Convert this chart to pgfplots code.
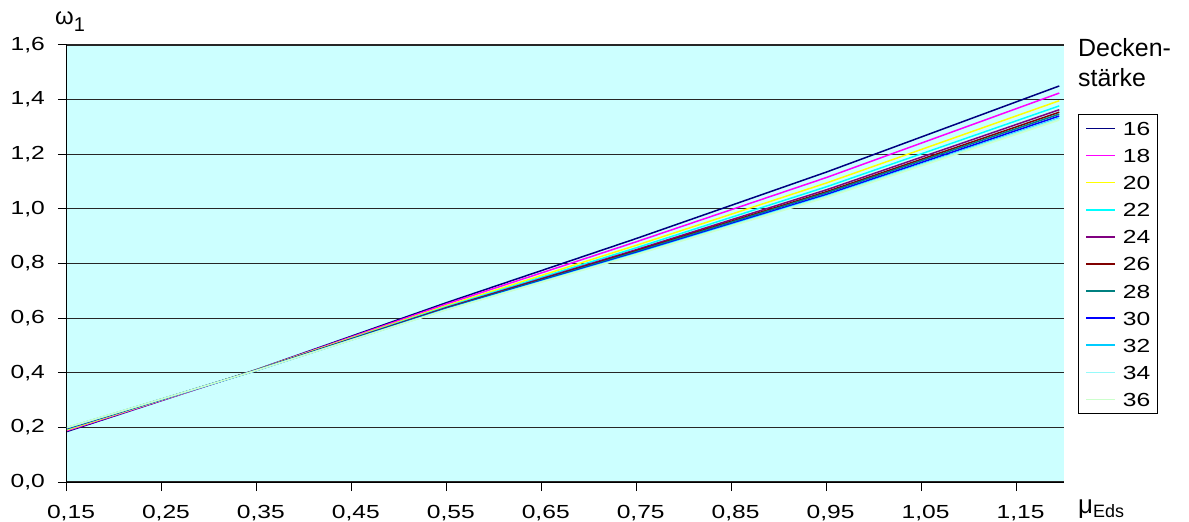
\documentclass[border=0pt]{standalone}
\usepackage{fontspec}
\setmainfont{Liberation Sans}
\usepackage{pgfplots}
\pgfplotsset{compat=1.18}
\definecolor{bgc}{RGB}{204,255,255}
\definecolor{c16}{RGB}{0,0,128}
\definecolor{c18}{RGB}{255,0,255}
\definecolor{c20}{RGB}{255,255,0}
\definecolor{c22}{RGB}{0,255,255}
\definecolor{c24}{RGB}{128,0,128}
\definecolor{c26}{RGB}{128,0,0}
\definecolor{c28}{RGB}{0,128,128}
\definecolor{c30}{RGB}{0,0,255}
\definecolor{c32}{RGB}{0,204,255}
\definecolor{c34}{RGB}{150,250,250}
\definecolor{c36}{RGB}{204,255,204}
\newcommand{\wl}[1]{\scalebox{1.3}[1]{#1}}
\begin{document}
\begin{tikzpicture}
\path[use as bounding box] (-67bp,-40bp) rectangle (1122bp,482bp);
\begin{axis}[
  at={(0bp,0bp)}, anchor=south west,
  scale only axis, width=997bp, height=437bp,
  xmin=0.15, xmax=1.2, ymin=0, ymax=1.6,
  xtick={0.15,0.25,0.35,0.45,0.55,0.65,0.75,0.85,0.95,1.05,1.15},
  ytick={0,0.2,0.4,0.6,0.8,1.0,1.2,1.4,1.6},
  axis x line*=bottom, axis y line*=left,
  axis line style={black, line width=1bp},
  tick align=outside, major tick length=9bp,
  tick style={black, line width=1bp},
  ymajorgrids, grid style={black!85, line width=1.2bp},
  axis background/.style={fill=bgc},
  tick label style={font=\fontsize{19}{22}\selectfont},
  /pgf/number format/assume math mode=true,
  xticklabel style={/pgf/number format/use comma, /pgf/number format/fixed, /pgf/number format/fixed zerofill, /pgf/number format/precision=2,
    inner sep=0pt, anchor=north, yshift=-14bp, xshift=4bp},
  yticklabel style={/pgf/number format/use comma, /pgf/number format/fixed, /pgf/number format/fixed zerofill, /pgf/number format/precision=1,
    inner sep=0pt, anchor=east, xshift=-13bp},
  xticklabel={\wl{\axisdefaultticklabel}},
  yticklabel={\wl{\axisdefaultticklabel}},
  legend style={at={(1.014,0.842)}, anchor=north west, draw=black, line width=0.8bp,
    fill=white, inner sep=7bp, row sep=13.1bp,
    font=\fontsize{19}{19}\selectfont,
    nodes={inner sep=0pt, text height=14bp, text depth=0pt}},
  legend cell align=left,
  legend image code/.code={\draw[#1, line width=1.6bp] (0bp,0bp) -- (29bp,0bp); \path (36bp,0bp);},
  every axis plot/.append style={line width=1.5bp},
  clip=false,
]
\addplot[c16] coordinates {(0.15,0.185) (0.35,0.412) (0.55,0.657) (0.75,0.892) (0.95,1.135) (1.195,1.450)};
\addplot[c18] coordinates {(0.15,0.188) (0.35,0.411) (0.55,0.652) (0.75,0.880) (0.95,1.115) (1.195,1.424)};
\addplot[c20] coordinates {(0.15,0.191) (0.35,0.411) (0.55,0.646) (0.75,0.867) (0.95,1.095) (1.195,1.396)};
\addplot[c22] coordinates {(0.15,0.194) (0.35,0.410) (0.55,0.642) (0.75,0.858) (0.95,1.081) (1.195,1.377)};
\addplot[c24] coordinates {(0.15,0.196) (0.35,0.410) (0.55,0.639) (0.75,0.851) (0.95,1.070) (1.195,1.363)};
\addplot[c26] coordinates {(0.15,0.197) (0.35,0.410) (0.55,0.637) (0.75,0.847) (0.95,1.063) (1.195,1.354)};
\addplot[c28] coordinates {(0.15,0.197) (0.35,0.410) (0.55,0.636) (0.75,0.844) (0.95,1.059) (1.195,1.347)};
\addplot[c30] coordinates {(0.15,0.198) (0.35,0.409) (0.55,0.634) (0.75,0.840) (0.95,1.053) (1.195,1.340)};
\addplot[c32] coordinates {(0.15,0.199) (0.35,0.409) (0.55,0.633) (0.75,0.837) (0.95,1.048) (1.195,1.332)};
\addplot[c34] coordinates {(0.15,0.199) (0.35,0.409) (0.55,0.632) (0.75,0.835) (0.95,1.046) (1.195,1.330)};
\addplot[c36] coordinates {(0.15,0.200) (0.35,0.409) (0.55,0.631) (0.75,0.833) (0.95,1.042) (1.195,1.325)};
\legend{\wl{16},\wl{18},\wl{20},\wl{22},\wl{24},\wl{26},\wl{28},\wl{30},\wl{32},\wl{34},\wl{36}}
\end{axis}
\node[anchor=base west, inner sep=0pt] at (-12bp,457bp) {{\fontsize{24}{24}\selectfont ω}\raisebox{-7bp}{\fontsize{20}{20}\selectfont 1}};
\node[anchor=base west, inner sep=0pt] at (1011bp,-31bp) {{\fontsize{26}{26}\selectfont μ}\raisebox{-4bp}{\fontsize{18}{18}\selectfont Eds}};
\node[anchor=base west, inner sep=0pt] at (1011bp,425bp) {\fontsize{25}{25}\selectfont Decken-};
\node[anchor=base west, inner sep=0pt] at (1011bp,395bp) {\fontsize{25}{25}\selectfont stärke};
\end{tikzpicture}
\end{document}
